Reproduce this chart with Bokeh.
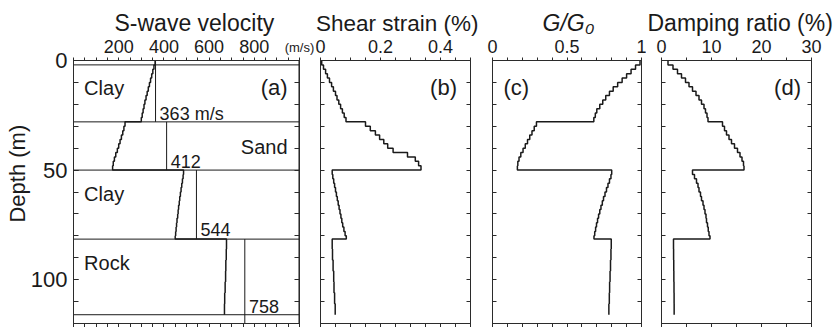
import math
from bokeh.plotting import figure
from bokeh.models import Range1d, FixedTicker, LinearAxis
from bokeh.layouts import row
from bokeh.core.properties import value
from bokeh.embed import file_html
from bokeh.resources import INLINE

FONT = "Liberation Sans"
INK = "#1a1a1a"
FRAME = "#2b2b2b"

# ---------------- data ----------------
# sub-layer boundaries (m)
sub_bounds = [0, 2, 4, 6, 8, 10, 12, 14, 16, 18, 20, 22, 24, 26, 28,
              30, 32, 34, 36, 38, 40, 42, 44, 46, 48, 50,
              52, 54, 56, 58, 60, 62, 64, 66, 68, 70, 72, 74, 76, 78, 80, 81.5,
              86, 91, 96, 101, 106, 111, 116]

# effective S-wave velocity (m/s) per sub-layer
vs_eff = [361, 356, 351, 346, 341, 336, 331, 326, 321, 316, 312, 308, 304, 300,
          228, 223, 218, 212, 206, 200, 194, 187, 181, 176, 173,
          487, 485, 482, 479, 476, 473, 470, 468, 465, 463, 461, 458, 456, 454, 452, 450,
          677, 676, 674, 673, 671, 669, 668]

# shear strain (%)
strain = [0.004, 0.010, 0.017, 0.023, 0.030, 0.037, 0.043, 0.050, 0.055, 0.061, 0.067, 0.073, 0.079, 0.085,
          0.150, 0.166, 0.183, 0.197, 0.211, 0.224, 0.242, 0.290, 0.316, 0.327, 0.335,
          0.039, 0.041, 0.044, 0.047, 0.050, 0.053, 0.056, 0.059, 0.062, 0.065, 0.068, 0.071, 0.074, 0.078, 0.082, 0.086,
          0.039, 0.040, 0.042, 0.044, 0.045, 0.047, 0.049]

# G/G0
g_ratio = [0.99, 0.96, 0.93, 0.90, 0.87, 0.84, 0.81, 0.785, 0.76, 0.74, 0.72, 0.70, 0.69, 0.68,
           0.295, 0.28, 0.265, 0.25, 0.235, 0.22, 0.205, 0.19, 0.178, 0.17, 0.167,
           0.80, 0.795, 0.785, 0.775, 0.765, 0.755, 0.745, 0.737, 0.728, 0.72, 0.712, 0.705, 0.698, 0.692, 0.686, 0.681,
           0.797, 0.795, 0.792, 0.789, 0.786, 0.784, 0.781]

# damping ratio (%)
damping = [1.3, 2.3, 3.2, 4.0, 4.8, 5.5, 6.2, 6.9, 7.5, 8.0, 8.5, 8.8, 9.1, 9.3,
           12.2, 12.6, 13.0, 13.5, 14.0, 14.6, 15.2, 15.7, 16.1, 16.4, 16.5,
           6.2, 6.6, 7.0, 7.3, 7.5, 7.8, 8.0, 8.3, 8.5, 8.7, 8.9, 9.0, 9.2, 9.35, 9.5, 9.7,
           2.4, 2.42, 2.45, 2.47, 2.5, 2.52, 2.53]

layer_names = ["Clay", "Sand", "Clay", "Rock"]
layer_tops = [0, 28, 50, 81.5]
layer_bottoms = [28, 50, 81.5, 120]
vs_initial = [363, 412, 544, 758]
boundary_depths = [2, 28, 50, 81.5, 116]

depth_ticks = [0, 10, 20, 30, 40, 50, 60, 70, 80, 90, 100, 110, 120]
depth_labels = [0, 50, 100]

vs_tick_labels = [(200, "200"), (400, "400"), (600, "600"), (800, "800")]
vs_unit = "(m/s)"
titles = ["S-wave velocity", "Shear strain (%)", "G/G\u2080", "Damping ratio (%)"]


def staircase(vals):
    xs, ys = [], []
    for i, v in enumerate(vals):
        xs.extend([v, v])
        ys.extend([sub_bounds[i], sub_bounds[i + 1]])
    return xs, ys


def style_axis(ax):
    ax.axis_line_color = FRAME
    ax.major_tick_line_color = FRAME
    ax.minor_tick_line_color = FRAME
    ax.major_label_text_font = FONT
    ax.major_label_text_color = INK


def make_panel(width, bl, br, xr, top_major, top_minor, title, title_offset,
               title_size="23px", title_italic=False, left_labels=False):
    p = figure(width=width, height=327, x_range=Range1d(*xr), y_range=Range1d(120, 0),
               output_backend="svg", toolbar_location=None,
               x_axis_location=None, y_axis_location=None,
               min_border_left=bl, min_border_right=br, min_border_top=60, min_border_bottom=4)
    for g in p.grid:
        g.visible = False
    p.outline_line_color = FRAME
    p.outline_line_width = 1
    p.background_fill_color = "white"
    p.border_fill_color = "white"

    # tick marks come from the minor ticks (every step); labels from the major ticks
    top = LinearAxis(ticker=FixedTicker(ticks=[t for t, _ in top_major], minor_ticks=top_minor),
                     major_label_overrides={t: s for t, s in top_major})
    style_axis(top)
    top.major_tick_in = 0
    top.major_tick_out = 0
    top.minor_tick_in = 0
    top.minor_tick_out = 3
    top.major_label_text_font_size = "18px"
    top.major_label_standoff = 5
    p.add_layout(top, "above")

    bot = LinearAxis(ticker=FixedTicker(ticks=[], minor_ticks=top_minor))
    style_axis(bot)
    bot.minor_tick_in = 0
    bot.minor_tick_out = 4
    bot.major_label_text_font_size = "0px"
    p.add_layout(bot, "below")

    tick_len = 5 if left_labels else 4
    if left_labels:
        left = LinearAxis(ticker=FixedTicker(ticks=depth_labels, minor_ticks=depth_ticks),
                          major_label_overrides={d: str(d) for d in depth_labels})
        left.major_label_text_font_size = "22px"
        left.major_label_standoff = 6
    else:
        left = LinearAxis(ticker=FixedTicker(ticks=[], minor_ticks=depth_ticks))
        left.major_label_text_font_size = "0px"
    style_axis(left)
    left.major_tick_in = tick_len
    left.major_tick_out = 0
    left.minor_tick_in = tick_len
    left.minor_tick_out = 0
    p.add_layout(left, "left")

    right = LinearAxis(ticker=FixedTicker(ticks=[], minor_ticks=depth_ticks))
    style_axis(right)
    right.major_label_text_font_size = "0px"
    right.minor_tick_in = tick_len
    right.minor_tick_out = 0
    p.add_layout(right, "right")

    p.title.text = title
    p.title.align = "left"
    p.title.offset = title_offset
    p.title.text_font = FONT
    p.title.text_font_size = title_size
    p.title.text_font_style = "italic" if title_italic else "normal"
    p.title.text_color = INK
    p.title.standoff = 2
    return p, top, left


def panel_tag(p, x, txt, align):
    p.text(x=[x], y=[12.5], text=[txt], text_font=value(FONT), text_font_size="22px",
           text_color=INK, text_align=align, text_baseline="alphabetic")


# ---------------- panel (a) ----------------
pa, pa_top, pa_left = make_panel(315, 73, 16, (0, 1000), vs_tick_labels,
                                 list(range(0, 1001, 50)), titles[0], 41, left_labels=True)
# unit label at the end of the velocity axis, on the line of the tick numbers
pa_top.axis_label = vs_unit
pa_top.axis_label_text_font = FONT
pa_top.axis_label_text_font_size = "13px"
pa_top.axis_label_text_font_style = "normal"
pa_top.axis_label_text_color = INK
pa_top.axis_label_standoff = -18
if "axis_label_align" in pa_top.properties():
    pa_top.axis_label_align = "end"
# depth axis title (leading no-break spaces move it up along the axis, as in the original)
pa_left.axis_label = "\u00a0" * 6 + "Depth (m)"
pa_left.axis_label_text_font = FONT
pa_left.axis_label_text_font_size = "22px"
pa_left.axis_label_text_font_style = "normal"
pa_left.axis_label_text_color = INK
pa_left.axis_label_standoff = -2

pa.segment(x0=[0] * len(boundary_depths), y0=boundary_depths,
           x1=[1000] * len(boundary_depths), y1=boundary_depths,
           line_color=INK, line_width=1)
pa.segment(x0=vs_initial, y0=layer_tops, x1=vs_initial, y1=layer_bottoms,
           line_color=INK, line_width=1)
pa.segment(x0=[1000], y0=[0], x1=[1000], y1=[120], line_color=INK, line_width=2)
xs, ys = staircase(vs_eff)
pa.line(xs, ys, line_color=INK, line_width=1.5)

name_x = [47, 947, 47, 47]
name_y = [12.4, 39.4, 61, 92.5]
name_align = ["left", "right", "left", "left"]
for nm, x, y, al in zip(layer_names, name_x, name_y, name_align):
    pa.text(x=[x], y=[y], text=[nm], text_font=value(FONT), text_font_size="20px",
            text_color=INK, text_align=al, text_baseline="alphabetic")
vs_lab_y = [24.5, 46.1, 77.3, 112.3]
for i, (v, y) in enumerate(zip(vs_initial, vs_lab_y)):
    txt = f"{v} m/s" if i == 0 else str(v)
    pa.text(x=[v + 18], y=[y], text=[txt], text_font=value(FONT), text_font_size="18px",
            text_color=INK, text_align="left", text_baseline="alphabetic")
panel_tag(pa, 947, "(a)", "right")

# ---------------- panel (b) ----------------
pb, _, _ = make_panel(166, 5, 11, (0, 0.5),
                      [(0, "0"), (0.2, "0.2"), (0.4, "0.4")],
                      [i * 0.05 for i in range(11)], titles[1], -4.5, title_size="22.5px")
xs, ys = staircase(strain)
pb.line(xs, ys, line_color=INK, line_width=1.5)
panel_tag(pb, 0.455, "(b)", "right")

# ---------------- panel (c) ----------------
pc, _, _ = make_panel(165, 11, 5, (0, 1),
                      [(0, "0"), (0.5, "0.5"), (1, "1")],
                      [i * 0.1 for i in range(11)], titles[2], 50, title_italic=True)
xs, ys = staircase(g_ratio)
pc.line(xs, ys, line_color=INK, line_width=1.5)
panel_tag(pc, 0.074, "(c)", "left")

# ---------------- panel (d) ----------------
pd_, _, _ = make_panel(189, 15, 24, (0, 30),
                       [(0, "0"), (10, "10"), (20, "20"), (30, "30")],
                       list(range(0, 31, 5)), titles[3], -14)
xs, ys = staircase(damping)
pd_.line(xs, ys, line_color=INK, line_width=1.5)
panel_tag(pd_, 27.9, "(d)", "right")

layout = row(pa, pb, pc, pd_)
open("out.html", "w").write(file_html(layout, INLINE))
